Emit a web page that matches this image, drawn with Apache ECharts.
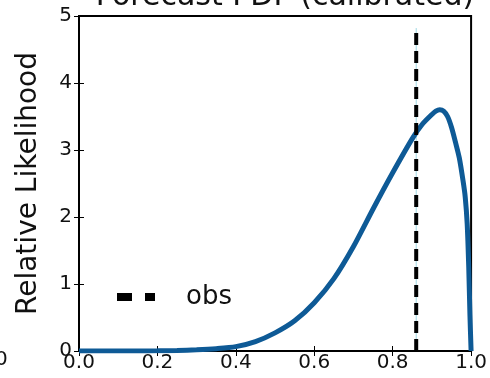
<!DOCTYPE html>
<html>
<head>
<meta charset="utf-8">
<script src="https://cdn.jsdelivr.net/npm/echarts@6/dist/echarts.min.js"></script>
<style>
  html, body { margin: 0; padding: 0; background: #fff; }
  #chart { width: 490px; height: 378px; }
</style>
</head>
<body>
<div id="chart"></div>
<script>
// values
var pdfX = [0, 0.05, 0.1, 0.15, 0.2, 0.25, 0.3, 0.35, 0.4, 0.45, 0.5, 0.55, 0.6, 0.65, 0.7, 0.75, 0.8,
            0.85, 0.875, 0.9, 0.91, 0.92, 0.93, 0.94, 0.95, 0.96, 0.97, 0.98, 0.985, 0.99, 0.994, 0.997, 1.0];
var pdfY = [0, 0, 0, 0.001, 0.003, 0.008, 0.018, 0.035, 0.065, 0.14, 0.27, 0.45, 0.72, 1.08, 1.56, 2.12, 2.66,
            3.17, 3.38, 3.53, 3.58, 3.6, 3.58, 3.5, 3.34, 3.12, 2.88, 2.52, 2.3, 1.9, 1.25, 0.55, 0];
var obsX = 0.86;
var obsTop = 4.82;
var xTicks = [0, 0.2, 0.4, 0.6, 0.8, 1.0];
var yTicks = [0, 1, 2, 3, 4, 5];

var font = 'DejaVu Sans';
var chart = echarts.init(document.getElementById('chart'), null, { renderer: 'canvas' });

var pdfData = pdfX.map(function (x, i) { return [x, pdfY[i]]; });

var baseX = {
  type: 'value', min: xTicks[0], max: xTicks[xTicks.length - 1], interval: 0.2,
  axisLine: { show: false },
  axisTick: { inside: true, length: 5, lineStyle: { color: '#000', width: 1 } },
  splitLine: { show: false }
};
var baseY = {
  type: 'value', min: yTicks[0], max: yTicks[yTicks.length - 1], interval: 1,
  axisLine: { show: false },
  axisTick: { inside: true, length: 5, lineStyle: { color: '#000', width: 1 } },
  splitLine: { show: false }
};

var option = {
  animation: false,
  title: {
    text: 'Forecast PDF (calibrated)',
    left: 280, textAlign: 'center', top: -23,
    textStyle: { fontFamily: font, fontSize: 30, fontWeight: 'normal', color: '#111' }
  },
  grid: {
    left: 79, right: 9, top: 16, bottom: 27,
    show: true, borderColor: '#000', borderWidth: 2, backgroundColor: '#fff'
  },
  legend: {
    data: [{
      name: 'obs',
      // two dashes, like the original legend key
      icon: 'path://M0,0h15v8h-15z M28,0h10v8h-10z'
    }],
    left: 117, top: 284, padding: 0,
    itemWidth: 38, itemHeight: 8,
    itemStyle: { color: '#000' },
    textStyle: { fontFamily: font, fontSize: 26, color: '#111', padding: [0, 0, 0, 26] }
  },
  xAxis: [
    Object.assign({}, baseX, {
      position: 'bottom',
      axisLabel: {
        fontFamily: font, fontSize: 20, color: '#111', margin: 2,
        formatter: function (v) { return v.toFixed(1); }
      }
    }),
    Object.assign({}, baseX, { position: 'top', axisLabel: { show: false } })
  ],
  yAxis: [
    Object.assign({}, baseY, {
      position: 'left',
      name: 'Relative Likelihood', nameLocation: 'middle', nameGap: 36,
      nameTextStyle: { fontFamily: font, fontSize: 28, color: '#111' },
      axisLabel: { fontFamily: font, fontSize: 20, color: '#111', margin: 7 }
    }),
    Object.assign({}, baseY, { position: 'right', axisLabel: { show: false } })
  ],
  graphic: [
    {
      type: 'text', left: -24, top: 350,
      style: { text: '1.0', fontFamily: font, fontSize: 20, fill: '#111' }
    }
  ],
  series: [
    {
      name: 'guide', type: 'line', z: 1, silent: true,
      data: [[obsX, 0], [obsX, obsTop]],
      symbol: 'none',
      lineStyle: { color: '#9fd8e3', width: 1 }
    },
    {
      name: 'pdf', type: 'line', z: 2,
      data: pdfData,
      smooth: 0.25,
      symbol: 'none',
      lineStyle: { color: '#0e5a96', width: 5 }
    },
    {
      name: 'obs', type: 'line', z: 3,
      data: [[obsX, 0], [obsX, obsTop]],
      symbol: 'none',
      itemStyle: { color: '#000' },
      lineStyle: { color: '#000', width: 4, type: [12, 6] }
    }
  ]
};

chart.setOption(option);
</script>
</body>
</html>
